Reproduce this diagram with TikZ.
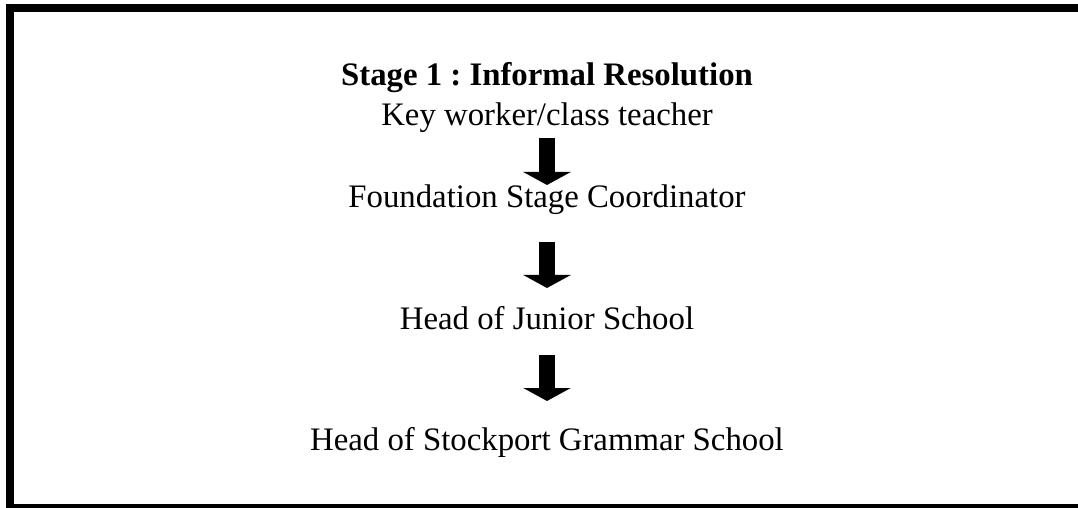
\documentclass[tikz,border=0pt]{standalone}
\usepackage{fontspec}
\setmainfont{Liberation Serif}
\usepackage{tikz}
\usetikzlibrary{calc,arrows.meta}

\tikzset{
  stagetext/.style={anchor=base, inner sep=0pt, font=\fontsize{16.4}{19}\selectfont},
  stagehead/.style={stagetext, font=\fontsize{16.4}{19}\selectfont\bfseries},
  downarrow/.style={line width=8pt, -{Triangle[width=23.5pt,length=6.5pt]}}
}

\begin{document}
\frenchspacing
\begin{tikzpicture}[x=0.5pt, y=-0.5pt]
			%%%%% START %%%%%
			
			\useasboundingbox (0,0) rectangle (1078,508);
			\clip (0,0) rectangle (1078,508);
			
			% frame, runs off the right side
			\draw[line width=4pt] (1100,8) -- (10,8) -- (10,508) -- (1100,508);
			
			\node[stagehead] (title) at (547,86) {Stage 1 : Informal Resolution};
			\node[stagetext] (keyw) at (547,126) {Key worker/class teacher};
			\node[stagetext] (fsc) at (547,208) {Foundation Stage Coordinator};
			\node[stagetext] (hjs) at (547,329) {Head of Junior School};
			\node[stagetext] (hsgs) at (547,450) {Head of Stockport Grammar School};
			
			\draw[downarrow] ($(keyw.base)+(0,12)$) -- ($(fsc.base)+(0,-23)$);
			\draw[downarrow] ($(fsc.base)+(0,34)$) -- ($(hjs.base)+(0,-41)$);
			\draw[downarrow] ($(hjs.base)+(0,26)$) -- ($(hsgs.base)+(0,-49)$);
			
			%%%%% END %%%%%
\end{tikzpicture}
\end{document}
